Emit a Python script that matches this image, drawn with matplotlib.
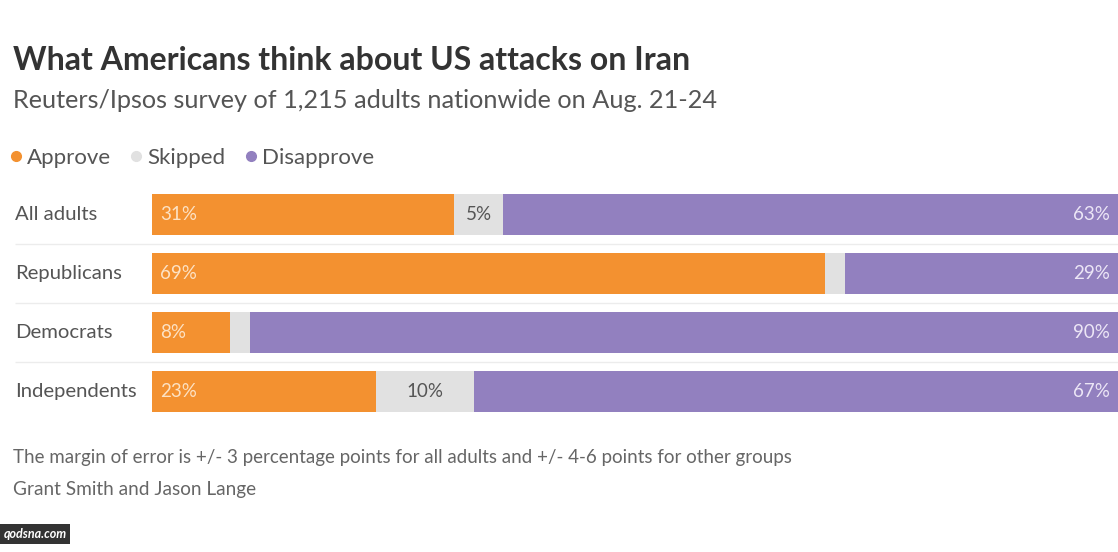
import matplotlib.pyplot as plt
import numpy as np

# survey results, percent
groups = ["All adults", "Republicans", "Democrats", "Independents"]
approve = [31, 69, 8, 23]
skipped = [5, 2, 2, 10]
disapprove = [63, 29, 90, 67]
show_skipped = [True, False, False, True]

orange = "#f39130"
grey = "#e1e1e1"
purple = "#9280bf"

plt.rcParams["font.family"] = ["Lato", "DejaVu Sans"]

fig = plt.figure(figsize=(11.18, 5.52), dpi=100)
fig.patch.set_facecolor("white")

fig.text(0.012, 1 - 60 / 552, "What Americans think about US attacks on Iran",
         fontsize=23, fontweight="bold", color="#333333", va="center")
fig.text(0.012, 1 - 100 / 552, "Reuters/Ipsos survey of 1,215 adults nationwide on Aug. 21-24",
         fontsize=18.2, color="#555555", va="center")

ax = fig.add_axes([152 / 1118, 1 - 421 / 552, 1 - 152 / 1118, 236 / 552])
y = np.arange(len(groups))
h = 0.7
a = np.array(approve)
s = np.array(skipped)
d = np.array(disapprove)
ax.barh(y, a, height=h, color=orange, label="Approve")
ax.barh(y, s, left=a, height=h, color=grey, label="Skipped")
ax.barh(y, d, left=a + s, height=h, color=purple, label="Disapprove")
ax.set_xlim(0, 99)
ax.set_ylim(len(groups) - 0.5, -0.5)
ax.axis("off")

for i, g in enumerate(groups):
    ax.text(-14, i, g, ha="left", va="center", fontsize=14.6, color="#555555")
    ax.text(0.8, i, f"{approve[i]}%", ha="left", va="center", fontsize=13.5, color="#fde2c4")
    if show_skipped[i]:
        ax.text(a[i] + s[i] / 2, i, f"{skipped[i]}%", ha="center", va="center",
                fontsize=13.5, color="#555555")
    ax.text(98.2, i, f"{disapprove[i]}%", ha="right", va="center", fontsize=13.5, color="#ece6f6")

ax.hlines(y[:-1] + 0.5, -14, 99, color="#ececec", lw=1, clip_on=False, zorder=0)

handles = [plt.Line2D([], [], marker="o", ls="", color=c, markersize=7)
           for c in (orange, grey, purple)]
fig.legend(handles, ["Approve", "Skipped", "Disapprove"], ncol=3, frameon=False,
           loc="center left", bbox_to_anchor=(0.009, 1 - 158 / 552),
           fontsize=16, handlelength=0.5, handletextpad=0.25, columnspacing=0.9,
           labelcolor="#555555", borderpad=0, borderaxespad=0)

fig.text(0.012, 1 - 458 / 552,
         "The margin of error is +/- 3 percentage points for all adults and +/- 4-6 points for other groups",
         fontsize=13.5, color="#666666", va="center")
fig.text(0.012, 1 - 490 / 552, "Grant Smith and Jason Lange",
         fontsize=13.7, color="#666666", va="center")

fig.text(0.003, 1 - 534 / 552, "qodsna.com", fontsize=9, fontweight="bold",
         fontstyle="italic", color="white", va="center",
         bbox=dict(boxstyle="square,pad=0.3", fc="#333333", ec="none"))

fig.savefig("out.png", dpi=100, facecolor="white")
